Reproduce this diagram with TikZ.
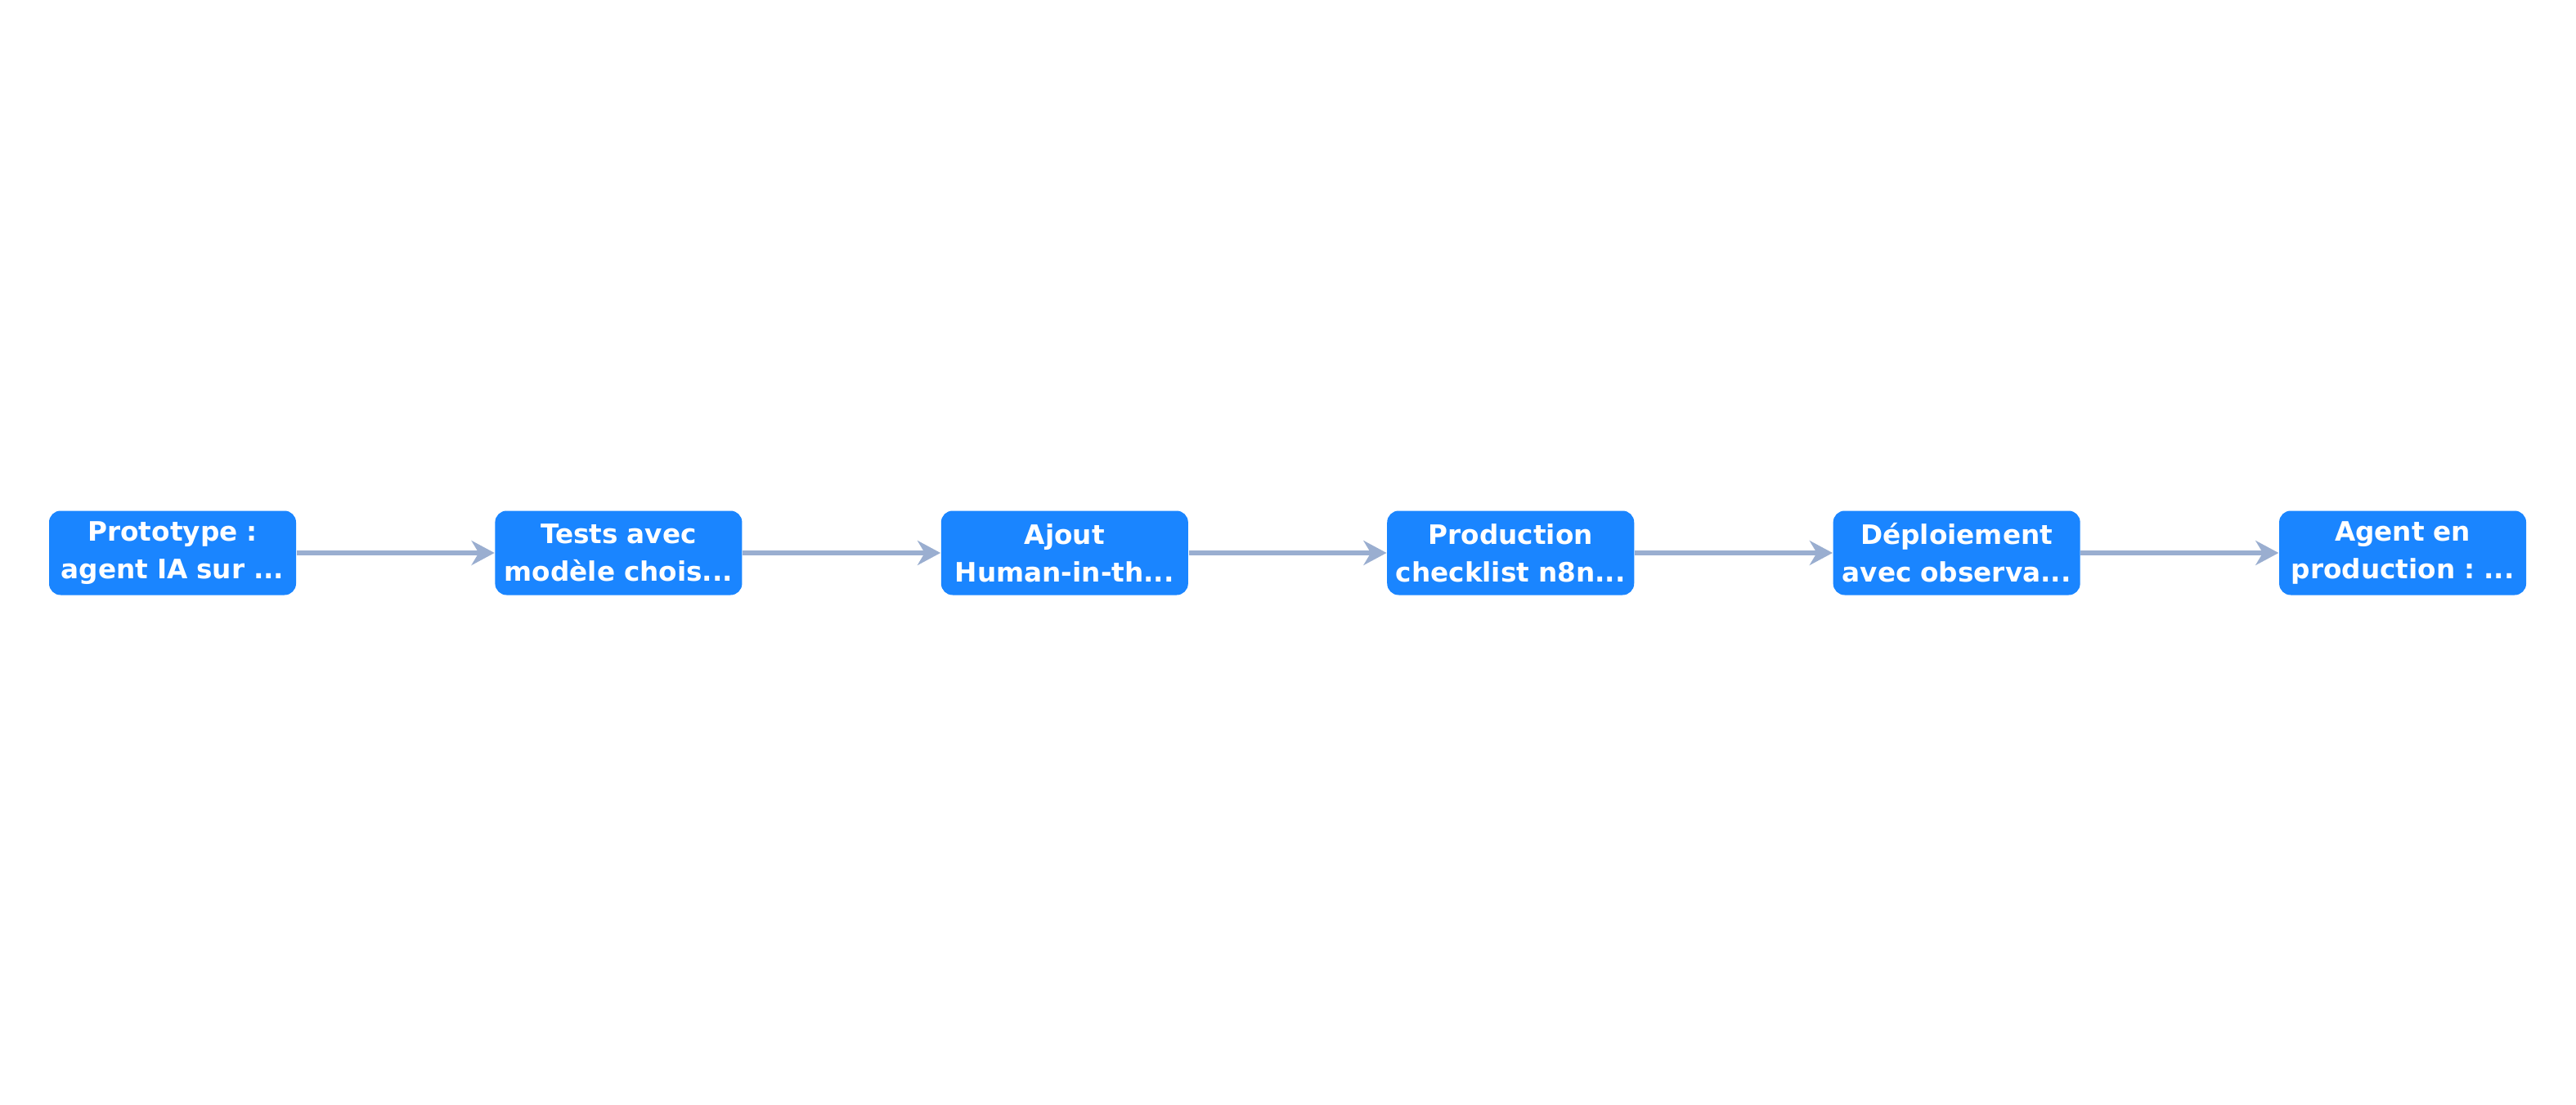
\documentclass[tikz,border=0pt]{standalone}
\usepackage{fontspec}
\setmainfont{DejaVu Sans}
\usepackage{xcolor}
\usetikzlibrary{arrows.meta,positioning}
\definecolor{StepBlue}{HTML}{1A85FF}
\definecolor{Link}{HTML}{9AAED0}
\frenchspacing
\tikzset{
  stage/.style={
    fill=StepBlue, draw=none, rounded corners=4pt,
    minimum width=3.02cm, minimum height=1.03cm, text width=3.0cm,
    align=center, inner sep=0pt, text=white,
    font=\fontsize{9.3}{13}\selectfont\bfseries
  },
  arr/.style={-{Stealth[length=8pt,width=8.5pt,inset=2.5pt]},line width=1.6pt,draw=Link}
}
\begin{document}
\begin{tikzpicture}[node distance=6mm and 2.42cm]
  \useasboundingbox (0,0) rectangle (31.5,13.5);
  \node[stage] (proto) at (2.11,6.74) {Prototype :\\agent IA sur ...};
  \node[stage,right=of proto] (tests) {Tests avec\\modèle chois...};
  \node[stage,right=of tests] (hitl) {Ajout\\Human-in-th...};
  \node[stage,right=of hitl] (prod) {Production\\checklist n8n...};
  \node[stage,right=of prod] (deploy) {Déploiement\\avec observa...};
  \node[stage,right=of deploy] (agent) {Agent en\\production : ...};
  \draw[arr] (proto)--(tests);
  \draw[arr] (tests)--(hitl);
  \draw[arr] (hitl)--(prod);
  \draw[arr] (prod)--(deploy);
  \draw[arr] (deploy)--(agent);
\end{tikzpicture}
\end{document}
